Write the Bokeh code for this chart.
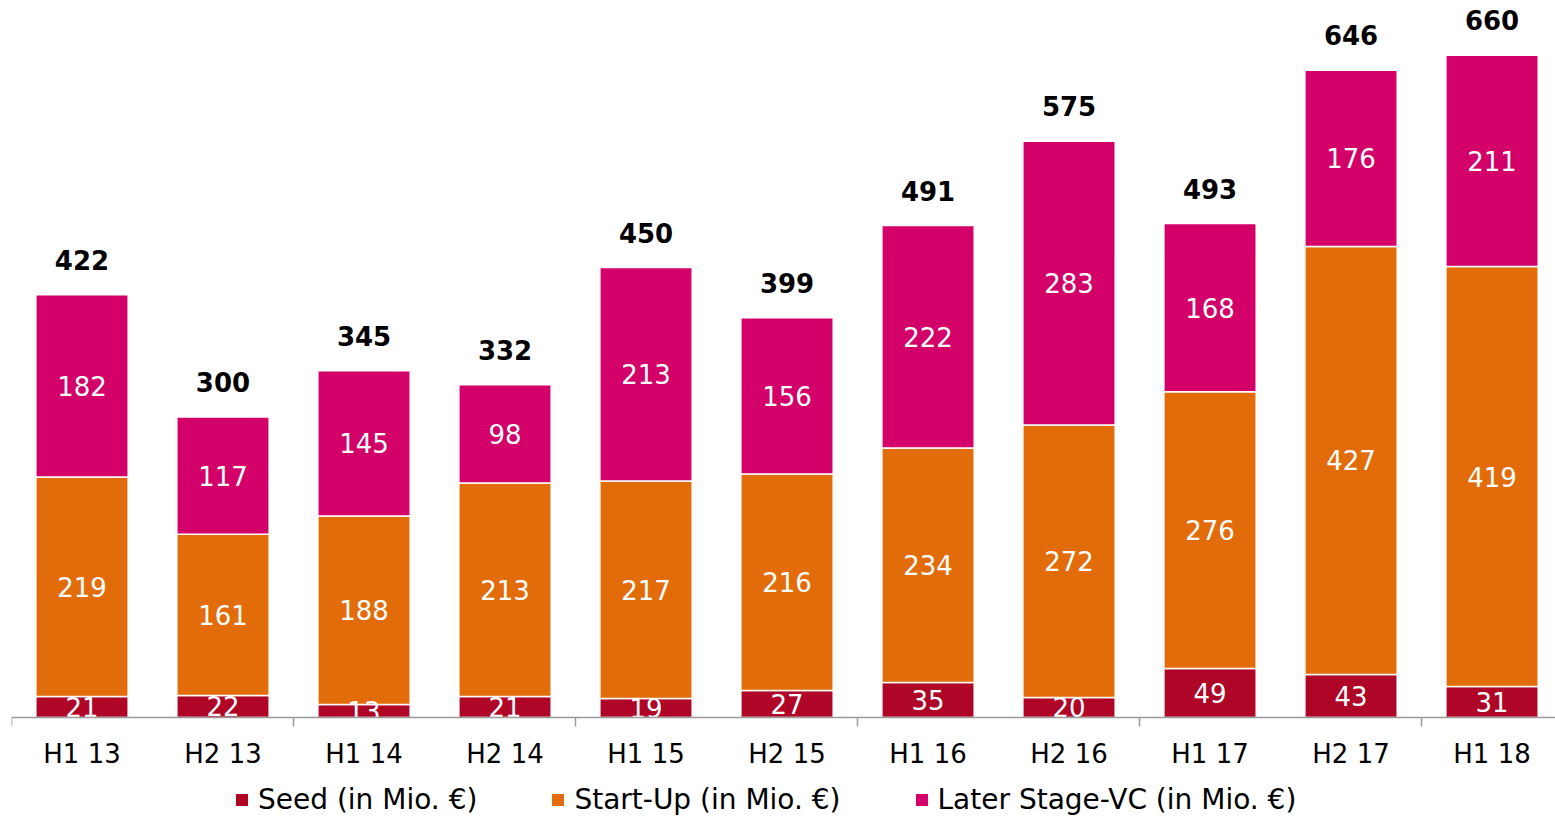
from bokeh.plotting import figure
from bokeh.models import ColumnDataSource, Range1d, FixedTicker, Legend, LegendItem
from bokeh.core.properties import value
from bokeh.embed import file_html
from bokeh.resources import INLINE

categories = ["H1 13", "H2 13", "H1 14", "H2 14", "H1 15", "H2 15",
              "H1 16", "H2 16", "H1 17", "H2 17", "H1 18"]
seed = [21, 22, 13, 21, 19, 27, 35, 20, 49, 43, 31]
startup = [219, 161, 188, 213, 217, 216, 234, 272, 276, 427, 419]
later = [182, 117, 145, 98, 213, 156, 222, 283, 168, 176, 211]
totals = [422, 300, 345, 332, 450, 399, 491, 575, 493, 646, 660]

series_names = ["Seed (in Mio. €)", "Start-Up (in Mio. €)", "Later Stage-VC (in Mio. €)"]
colors = ["#AF0628", "#E36C0A", "#D20068"]

FONT = "DejaVu Sans"

x = list(range(len(categories)))
s_top = seed
u_top = [a + b for a, b in zip(seed, startup)]
l_top = [a + b for a, b in zip(u_top, later)]

src = ColumnDataSource(dict(
    x=x, seed=seed, startup=startup, later=later,
    seed_mid=[v / 2 for v in seed],
    up_mid=[s + v / 2 for s, v in zip(s_top, startup)],
    la_mid=[u + v / 2 for u, v in zip(u_top, later)],
    top=l_top,
    seed_lbl=[str(v) for v in seed],
    up_lbl=[str(v) for v in startup],
    la_lbl=[str(v) for v in later],
    tot_lbl=[str(v) for v in totals],
))

p = figure(width=1555, height=816, output_backend="svg", toolbar_location=None,
           x_range=Range1d(-0.5, 10.45), y_range=Range1d(-98.8, 707.6))
p.min_border_left = 11
p.min_border_right = 0
p.min_border_top = 8
p.min_border_bottom = 0
p.outline_line_color = None
p.xgrid.visible = False
p.ygrid.visible = False
p.yaxis.visible = False
p.background_fill_color = "white"

renderers = p.vbar_stack(["seed", "startup", "later"], x="x", width=0.655, source=src,
                         color=colors, line_color="white", line_width=1.5)

for ycol, tcol in [("seed_mid", "seed_lbl"), ("up_mid", "up_lbl"), ("la_mid", "la_lbl")]:
    p.text(x="x", y=ycol, text=tcol, source=src, text_color="white",
           text_font=value(FONT), text_font_size="26px",
           text_align="center", text_baseline="middle")

p.text(x="x", y="top", text="tot_lbl", source=src, text_color="black",
       text_font=value(FONT), text_font_size="26px", text_font_style="bold",
       text_align="center", text_baseline="alphabetic", y_offset=-35)

ax = p.xaxis[0]
ax.fixed_location = 0
ax.ticker = FixedTicker(ticks=x, minor_ticks=[i - 0.5 for i in range(0, len(categories) + 1, 2)])
ax.major_label_overrides = {i: c for i, c in zip(x, categories)}
ax.major_tick_out = 0
ax.major_tick_in = 0
ax.minor_tick_out = 9
ax.minor_tick_in = 0
ax.minor_tick_line_color = "#9A9A9A"
ax.minor_tick_line_width = 1.5
ax.axis_line_color = "#9A9A9A"
ax.axis_line_width = 1.5
ax.major_label_text_font = FONT
ax.major_label_text_font_size = "26px"
ax.major_label_text_color = "black"
ax.major_label_standoff = 12

legend = Legend(items=[LegendItem(label=n, renderers=[r]) for n, r in zip(series_names, renderers)],
                orientation="horizontal", location=(222, 0))
legend.label_text_font = FONT
legend.label_text_font_size = "28px"
legend.label_text_color = "black"
legend.glyph_width = 17
legend.glyph_height = 17
legend.label_standoff = 8
legend.spacing = 72
legend.padding = 0
legend.margin = 0
legend.border_line_color = None
legend.background_fill_alpha = 0
p.add_layout(legend)

open("out.html", "w").write(file_html(p, INLINE))
